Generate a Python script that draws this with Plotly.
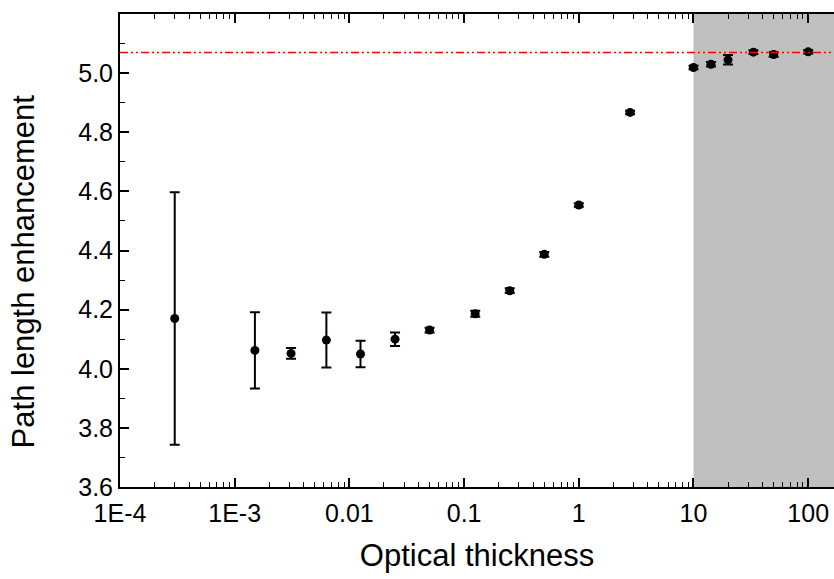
import plotly.graph_objects as go
import numpy as np

# Data
optical_thickness = [3.0e-4, 1.5e-3, 3.1e-3, 6.3e-3, 0.0125, 0.025, 0.05, 0.125, 0.25, 0.5, 1.0, 2.8, 10.0, 14.2, 20.0, 33.3, 50.0, 100.0]
enhancement = [4.170, 4.062, 4.052, 4.097, 4.050, 4.100, 4.131, 4.186, 4.264, 4.387, 4.554, 4.867, 5.019, 5.030, 5.045, 5.071, 5.063, 5.072]
enhancement_err = [0.427, 0.129, 0.018, 0.093, 0.045, 0.023, 0.008, 0.010, 0.008, 0.008, 0.006, 0.006, 0.006, 0.008, 0.016, 0.006, 0.008, 0.006]

limit_value = 5.07
shade_start = 10.0

x_tickvals = [1e-4, 1e-3, 1e-2, 1e-1, 1, 10, 100]
x_ticktext = ["1E-4", "1E-3", "0.01", "0.1", "1", "10", "100"]
x_minor = [m * 10.0 ** e for e in range(-4, 3) for m in range(2, 10)]

x_range_log = [-4, 2.225]
y_range = [3.6, 5.2]

font_family = "Liberation Sans, Arial, sans-serif"

fig = go.Figure()

fig.add_trace(go.Scatter(
    x=optical_thickness, y=enhancement,
    mode="markers",
    marker=dict(color="black", size=9, symbol="circle"),
    error_y=dict(type="data", array=enhancement_err, visible=True,
                 color="black", thickness=2, width=5),
    showlegend=False,
))

# grey shaded region from tau = 10 to right edge
fig.add_shape(type="rect", xref="x", yref="paper",
              x0=shade_start, x1=10 ** x_range_log[1], y0=0, y1=1,
              fillcolor="#c0c0c0", line=dict(width=0), layer="below")

# red dash-dot-dot reference line
fig.add_shape(type="line", xref="paper", yref="y",
              x0=0, x1=1, y0=limit_value, y1=limit_value,
              line=dict(color="red", width=1.6, dash="8px,3px,2px,3px,2px,3px"),
              layer="above")

fig.update_xaxes(
    type="log", range=x_range_log,
    tickmode="array", tickvals=x_tickvals, ticktext=x_ticktext,
    ticks="inside", ticklen=9, tickwidth=1.5, tickcolor="black",
    minor=dict(tickmode="array", tickvals=x_minor, ticks="inside",
               ticklen=5, tickwidth=1.2, tickcolor="black", showgrid=False),
    showline=True, linecolor="black", linewidth=2, mirror="ticks",
    showgrid=False, zeroline=False, ticklabelstandoff=3,
    tickfont=dict(family=font_family, size=25, color="black"),
    title=dict(text="Optical thickness", standoff=18,
               font=dict(family=font_family, size=31, color="black")),
)

fig.update_yaxes(
    range=y_range, dtick=0.2, tick0=3.6, tickformat=".1f",
    ticks="inside", ticklen=9, tickwidth=1.5, tickcolor="black",
    minor=dict(dtick=0.1, ticks="inside", ticklen=5, tickwidth=1.2,
               tickcolor="black", showgrid=False),
    showline=True, linecolor="black", linewidth=2, mirror=False,
    showgrid=False, zeroline=False,
    tickfont=dict(family=font_family, size=25, color="black"),
)

fig.add_annotation(
    text="Path length enhancement", textangle=-90,
    xref="paper", yref="paper", x=-0.135, y=0.455,
    xanchor="center", yanchor="middle", showarrow=False,
    font=dict(family=font_family, size=31, color="black"),
)

fig.update_layout(
    width=834, height=579,
    margin=dict(l=120, r=0, t=14, b=92),
    paper_bgcolor="white", plot_bgcolor="white",
    font=dict(family=font_family, color="black"),
)

fig.write_html("out.html")
